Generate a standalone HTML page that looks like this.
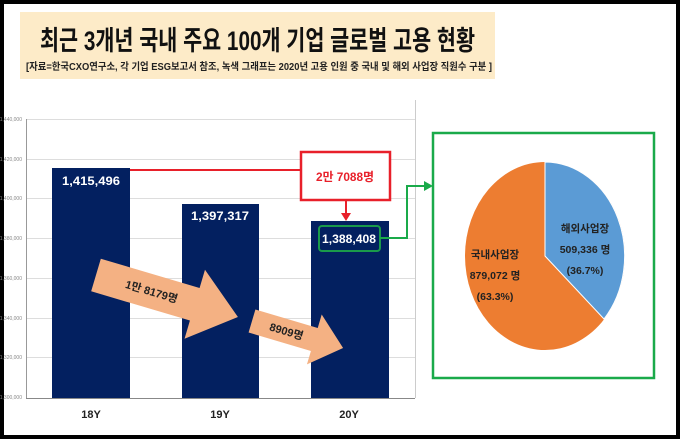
<!DOCTYPE html>
<html><head><meta charset="utf-8"><style>
body{margin:0;background:#fff;}
svg text{font-family:"Liberation Sans","Noto Sans CJK KR",sans-serif;}
</style></head><body>
<svg width="680" height="441" viewBox="0 0 680 441" xmlns="http://www.w3.org/2000/svg">
<rect x="0" y="0" width="680" height="441" fill="#fff"/>
<rect x="2" y="2" width="676" height="435" fill="none" stroke="#000" stroke-width="4"/>
<rect x="20" y="12" width="475" height="67" fill="#fdebc8"/>
<text x="40" y="50" font-size="27" font-weight="bold" fill="#111" textLength="435" lengthAdjust="spacingAndGlyphs">최근 3개년 국내 주요 100개 기업 글로벌 고용 현황</text>
<text x="26" y="70" font-size="10" font-weight="bold" fill="#222" textLength="466" lengthAdjust="spacingAndGlyphs">[자료=한국CXO연구소, 각 기업 ESG보고서 참조, 녹색 그래프는 2020년 고용 인원 중 국내 및 해외 사업장 직원수 구분 ]</text>
<g stroke="#ddd" stroke-width="1">
<line x1="26" y1="119.5" x2="415" y2="119.5"/><line x1="26" y1="159.5" x2="415" y2="159.5"/>
<line x1="26" y1="198.5" x2="415" y2="198.5"/><line x1="26" y1="238.5" x2="415" y2="238.5"/>
<line x1="26" y1="278.5" x2="415" y2="278.5"/><line x1="26" y1="318.5" x2="415" y2="318.5"/>
<line x1="26" y1="357.5" x2="415" y2="357.5"/>
</g>
<line x1="26.5" y1="119" x2="26.5" y2="398" stroke="#999"/>
<line x1="415.5" y1="100" x2="415.5" y2="398" stroke="#ccc"/>
<line x1="26" y1="398.5" x2="415" y2="398.5" stroke="#888"/>
<g font-size="5" fill="#888" text-anchor="end">
<text x="22" y="121">1,440,000</text><text x="22" y="161">1,420,000</text><text x="22" y="200">1,400,000</text>
<text x="22" y="240">1,380,000</text><text x="22" y="280">1,360,000</text><text x="22" y="320">1,340,000</text>
<text x="22" y="359">1,320,000</text><text x="22" y="399">1,300,000</text>
</g>
<rect x="52" y="168" width="78" height="230" fill="#032060"/>
<rect x="182" y="204" width="77" height="194" fill="#032060"/>
<rect x="311" y="221" width="78" height="177" fill="#032060"/>
<g font-size="12" font-weight="bold" fill="#fff" text-anchor="middle">
<text x="91" y="185" textLength="58" lengthAdjust="spacingAndGlyphs">1,415,496</text><text x="220" y="220" textLength="58" lengthAdjust="spacingAndGlyphs">1,397,317</text><text x="349" y="243" textLength="54" lengthAdjust="spacingAndGlyphs">1,388,408</text>
</g>
<rect x="319" y="226" width="61" height="25" rx="3" fill="none" stroke="#1a9a4a" stroke-width="2"/>
<g font-size="11" font-weight="bold" fill="#222" text-anchor="middle">
<text x="91" y="418">18Y</text><text x="220" y="418">19Y</text><text x="349" y="418">20Y</text>
</g>
<polyline points="130,170 301,170" fill="none" stroke="#e8202a" stroke-width="2"/>
<rect x="301" y="152" width="89" height="48" fill="#fff" stroke="#e8202a" stroke-width="2.5"/>
<text x="345" y="181" text-anchor="middle" font-size="12" font-weight="bold" fill="#e8202a" textLength="58" lengthAdjust="spacingAndGlyphs">2만 7088명</text>
<line x1="346" y1="200" x2="346" y2="214" stroke="#e8202a" stroke-width="2"/>
<polygon points="341,213 351,213 346,221" fill="#e8202a"/>
<polyline points="380,238 407,238 407,186 426,186" fill="none" stroke="#1aaa4a" stroke-width="2"/>
<polygon points="424,181 433,186 424,191" fill="#1aaa4a"/>
<g transform="translate(96,275) rotate(16.5)">
<polygon points="0,-17 103,-17 103,-36 148,0 103,36 103,17 0,17" fill="#f4b183"/>
<text x="58" y="4" text-anchor="middle" font-size="11" font-weight="bold" fill="#222">1만 8179명</text>
</g>
<g transform="translate(252,321) rotate(16.5)">
<polygon points="0,-12 65,-12 65,-26 95,0 65,26 65,12 0,12" fill="#f4b183"/>
<text x="36" y="4" text-anchor="middle" font-size="11" font-weight="bold" fill="#222">8909명</text>
</g>
<rect x="433" y="133" width="221" height="245" fill="#fff" stroke="#1aaa4a" stroke-width="2.5"/>
<ellipse cx="545" cy="256" rx="80" ry="94" fill="#ed7d31"/>
<path d="M545,256 L545,162 A80,94 0 0,1 604,319 Z" fill="#5b9bd5" stroke="#fff" stroke-width="1"/>
<g font-size="10.5" font-weight="bold" fill="#222" text-anchor="middle">
<text x="585" y="232">해외사업장</text><text x="585" y="253">509,336 명</text><text x="585" y="274">(36.7%)</text>
<text x="495" y="258">국내사업장</text><text x="495" y="279">879,072 명</text><text x="495" y="300">(63.3%)</text>
</g>
</svg>
</body></html>
